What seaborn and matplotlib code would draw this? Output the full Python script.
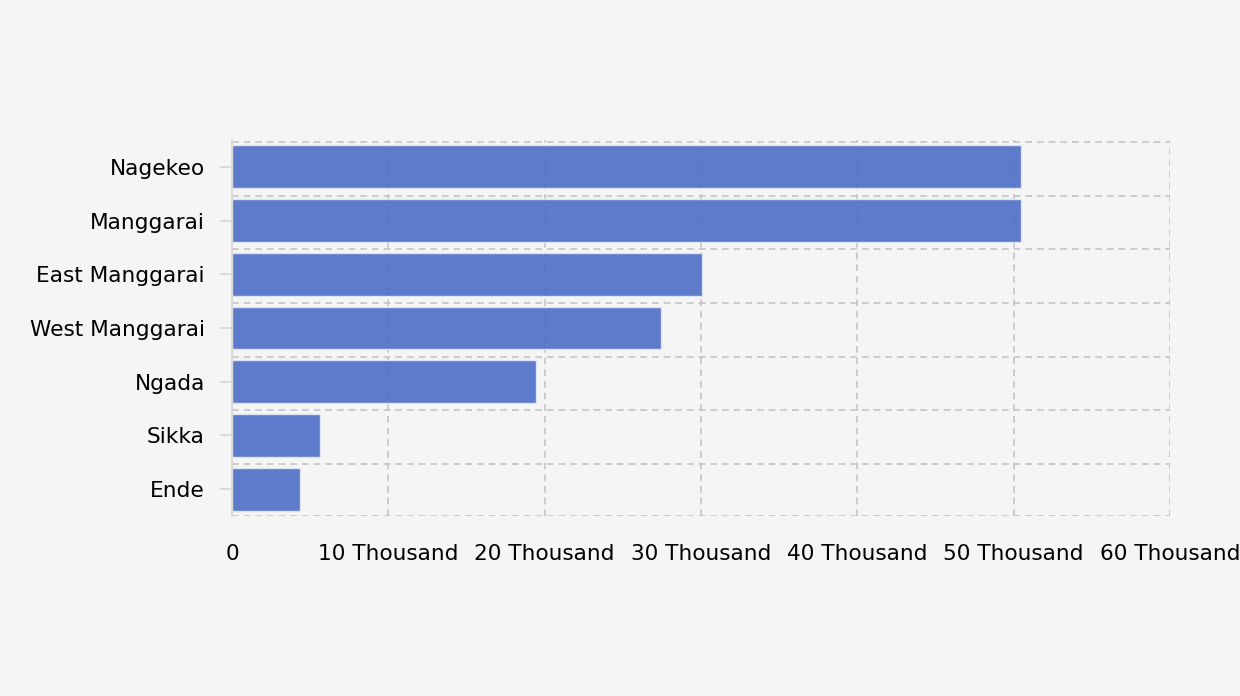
import numpy as np
import pandas as pd
import matplotlib
matplotlib.use("Agg")
import matplotlib.pyplot as plt
import seaborn as sns
from matplotlib.ticker import FuncFormatter, FixedLocator

# data
regencies = ['Nagekeo', 'Manggarai', 'East Manggarai', 'West Manggarai', 'Ngada', 'Sikka', 'Ende']
values = [50500, 50500, 30050, 27450, 19450, 5600, 4350]
x_ticks = [0, 10000, 20000, 30000, 40000, 50000, 60000]

df = pd.DataFrame({'Regency': regencies, 'Value': values})

sns.set_theme(style='white')
plt.rcParams['font.family'] = ['DejaVu Sans']

fig = plt.figure(figsize=(12.4, 6.96), dpi=100, facecolor='#f5f5f5')
# plot area: top band edge ~140px, bottom ~516px
ax = fig.add_axes([232 / 1240, 1 - 516 / 696, (1170 - 232) / 1240, (516 - 140) / 696])
ax.set_facecolor('#f5f5f5')

sns.barplot(data=df, x='Value', y='Regency', orient='h', color='#4e6dc6', alpha=0.9,
            saturation=1, width=0.8, edgecolor='#e4e8f6', linewidth=1, ax=ax)

ax.set_xlim(0, 60000)
ax.set_ylim(len(regencies) - 0.5, -0.5)
ax.xaxis.set_major_locator(FixedLocator(x_ticks))
ax.xaxis.set_major_formatter(FuncFormatter(lambda v, p: '0' if v == 0 else f'{int(v / 1000)} Thousand'))
# grid lines sit just below each band edge, as in the reference
edges = np.arange(-0.5, len(regencies), 1.0) + 0.035
edges[-1] = len(regencies) - 0.5
ax.yaxis.set_minor_locator(FixedLocator(edges))

ax.set_axisbelow(True)
ax.grid(axis='x', which='major', color='#c4c4c4', linestyle=(0, (4, 3)), linewidth=1.2)
ax.grid(axis='y', which='minor', color='#c4c4c4', linestyle=(0, (4, 3)), linewidth=1.2)
ax.grid(axis='y', which='major', visible=False)

for s in ['top', 'right', 'bottom']:
    ax.spines[s].set_visible(False)
ax.spines['left'].set_color('#d8d8d8')
ax.spines['left'].set_linewidth(1.3)
ax.spines['left'].set_zorder(3)

ax.tick_params(axis='y', which='major', length=9, color='#d8d8d8', width=1.3, pad=10.5, labelsize=15.6, labelcolor='black', left=True)
ax.tick_params(axis='y', which='minor', length=0)
ax.tick_params(axis='x', length=0, pad=20.5, labelsize=15.6, labelcolor='black')

ax.set_xlabel('')
ax.set_ylabel('')

fig.savefig('out.png', dpi=100, facecolor=fig.get_facecolor())
